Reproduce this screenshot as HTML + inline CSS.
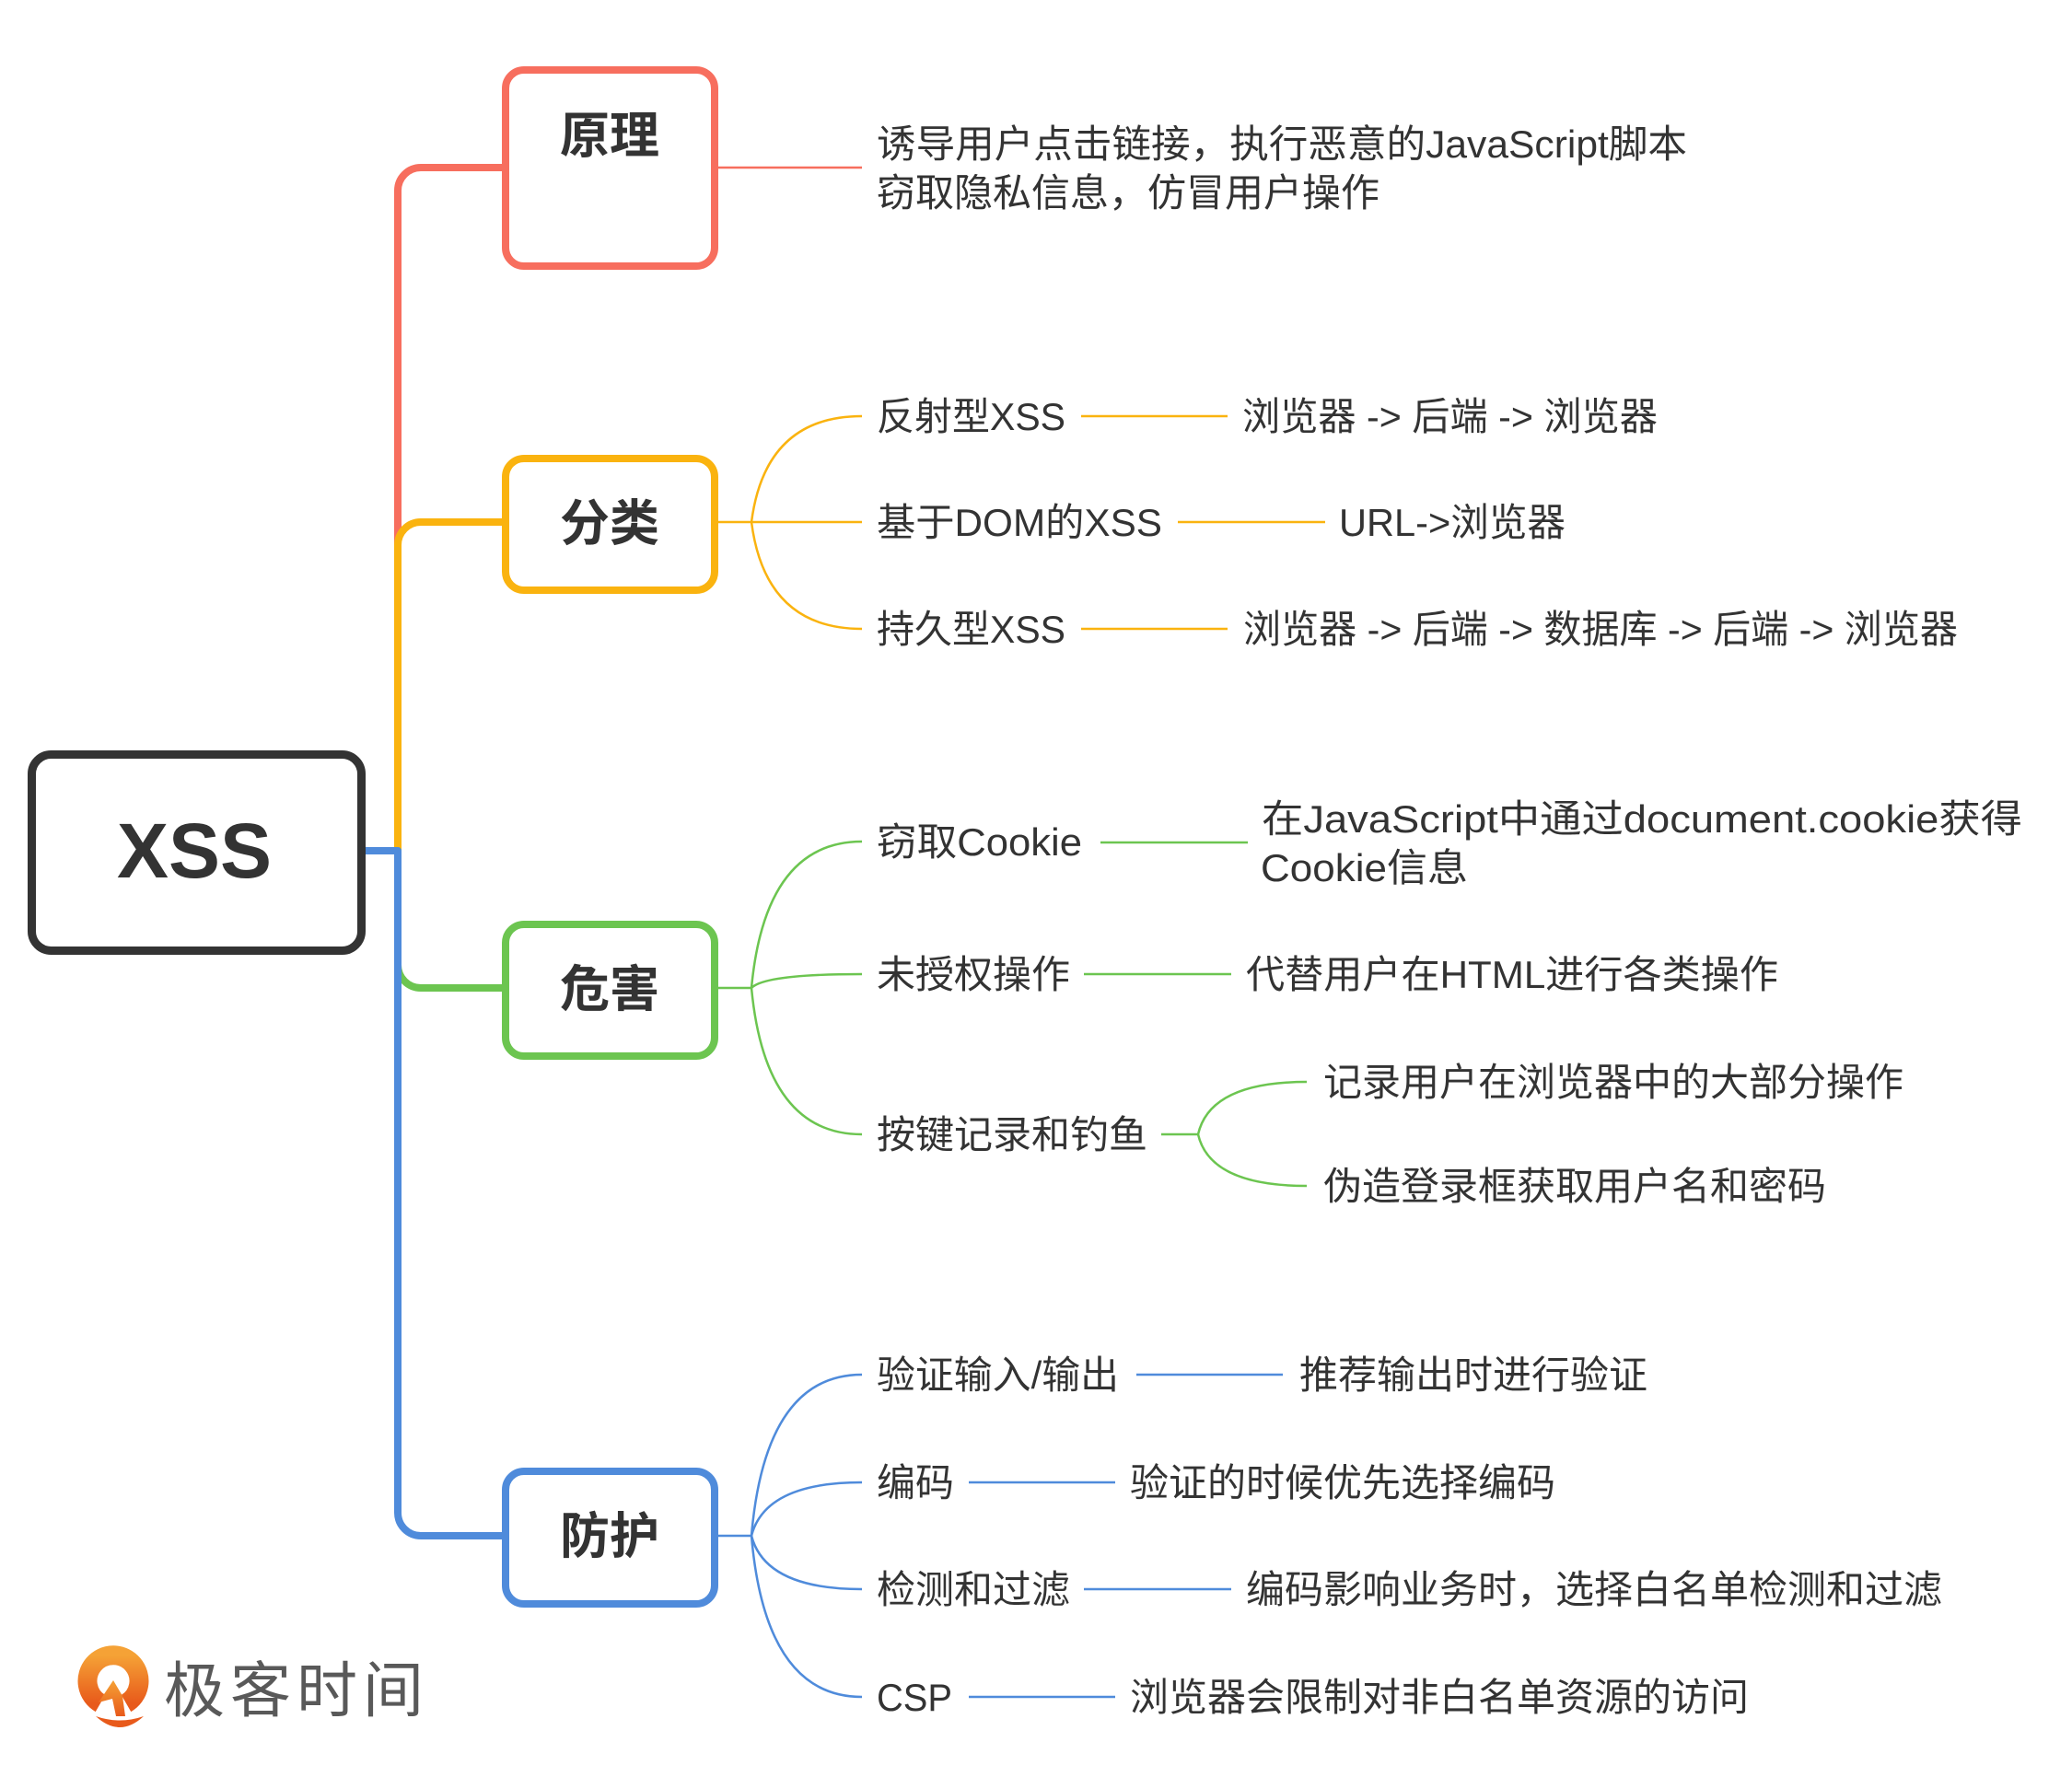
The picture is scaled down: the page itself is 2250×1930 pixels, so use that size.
<!DOCTYPE html>
<html>
<head>
<meta charset="utf-8">
<style>
  html,body{margin:0;padding:0;background:#fff;}
  body{width:2250px;height:1930px;overflow:hidden;}
  svg{display:block;}
  .t{font-family:"Liberation Sans","Noto Sans CJK SC",sans-serif;font-size:42px;fill:#333;}
  .b{font-family:"Liberation Sans","Noto Sans CJK SC",sans-serif;font-size:54px;font-weight:700;fill:#333;}
</style>
</head>
<body>
<svg width="2250" height="1930" viewBox="0 0 2250 1930" xmlns="http://www.w3.org/2000/svg">
  <rect x="0" y="0" width="2250" height="1930" fill="#fff"/>
  <defs>
    <linearGradient id="lg" x1="0" y1="0" x2="0" y2="1">
      <stop offset="0" stop-color="#F5A236"/>
      <stop offset="1" stop-color="#E85A1B"/>
    </linearGradient>
  </defs>

  <!-- trunk connectors -->
  <g fill="none" stroke-width="8" stroke-linecap="butt" stroke-linejoin="round">
    <path d="M395 924 H432 V207 A25 25 0 0 1 457 182 H550" stroke="#F76E5E"/>
    <path d="M395 924 H432 V592 A25 25 0 0 1 457 567 H550" stroke="#FAB30F"/>
    <path d="M395 924 H432 V1048 A25 25 0 0 0 457 1073 H550" stroke="#6CC550"/>
    <path d="M395 924 H432 V1643 A25 25 0 0 0 457 1668 H550" stroke="#4F8BDB"/>
  </g>

  <!-- boxes -->
  <rect x="34.5" y="819.5" width="358" height="213" rx="21" fill="#fff" stroke="#333" stroke-width="9"/>
  <rect x="549" y="76" width="227" height="213" rx="20" fill="#fff" stroke="#F76E5E" stroke-width="8"/>
  <rect x="549" y="498" width="227" height="143" rx="20" fill="#fff" stroke="#FAB30F" stroke-width="8"/>
  <rect x="549" y="1004" width="227" height="143" rx="20" fill="#fff" stroke="#6CC550" stroke-width="8"/>
  <rect x="549" y="1598" width="227" height="144" rx="20" fill="#fff" stroke="#4F8BDB" stroke-width="8"/>

  <!-- box labels -->
  <text x="211" y="953" text-anchor="middle" font-family="Liberation Sans, sans-serif" font-size="84" font-weight="700" fill="#333" textLength="168" lengthAdjust="spacingAndGlyphs">XSS</text>
  <text class="b" x="662" y="166" text-anchor="middle">原理</text>
  <text class="b" x="662" y="587" text-anchor="middle">分类</text>
  <text class="b" x="662" y="1093" text-anchor="middle">危害</text>
  <text class="b" x="662" y="1687" text-anchor="middle">防护</text>

  <!-- 原理 connector -->
  <path d="M780 182 H936" fill="none" stroke="#F76E5E" stroke-width="2.5"/>

  <!-- 分类 connectors -->
  <g fill="none" stroke="#FAB30F" stroke-width="2.5">
    <path d="M780 567 H816"/>
    <path d="M816 567 Q831 452 936 452"/>
    <path d="M816 567 H936"/>
    <path d="M816 567 Q831 683 936 683"/>
    <path d="M1174 452 H1333"/>
    <path d="M1279 567 H1439"/>
    <path d="M1174 683 H1333"/>
  </g>

  <!-- 危害 connectors -->
  <g fill="none" stroke="#6CC550" stroke-width="2.5">
    <path d="M780 1073 H816"/>
    <path d="M816 1073 Q831 914 936 914"/>
    <path d="M816 1073 Q831 1058 936 1058"/>
    <path d="M816 1073 Q831 1232 936 1232"/>
    <path d="M1195 915 H1355"/>
    <path d="M1177 1058 H1337"/>
    <path d="M1261 1232 H1301"/>
    <path d="M1301 1232 Q1314 1175 1419 1175"/>
    <path d="M1301 1232 Q1314 1288 1419 1288"/>
  </g>

  <!-- 防护 connectors -->
  <g fill="none" stroke="#4F8BDB" stroke-width="2.5">
    <path d="M780 1668 H816"/>
    <path d="M816 1668 Q831 1493 936 1493"/>
    <path d="M816 1668 Q831 1610 936 1610"/>
    <path d="M816 1668 Q831 1726 936 1726"/>
    <path d="M816 1668 Q831 1843 936 1843"/>
    <path d="M1234 1493 H1393"/>
    <path d="M1052 1610 H1211"/>
    <path d="M1177 1726 H1337"/>
    <path d="M1052 1843 H1211"/>
  </g>

  <!-- 原理 texts -->
  <text class="t" x="952" y="171" textLength="880" lengthAdjust="spacingAndGlyphs">诱导用户点击链接，执行恶意的JavaScript脚本</text>
  <text class="t" x="952" y="224">窃取隐私信息，仿冒用户操作</text>

  <!-- 分类 texts -->
  <text class="t" x="952" y="467" textLength="205" lengthAdjust="spacingAndGlyphs">反射型XSS</text>
  <text class="t" x="1349" y="467" textLength="451" lengthAdjust="spacingAndGlyphs">浏览器 -&gt; 后端 -&gt; 浏览器</text>
  <text class="t" x="952" y="582" textLength="310" lengthAdjust="spacingAndGlyphs">基于DOM的XSS</text>
  <text class="t" x="1454" y="582" textLength="246" lengthAdjust="spacingAndGlyphs">URL-&gt;浏览器</text>
  <text class="t" x="952" y="698" textLength="205" lengthAdjust="spacingAndGlyphs">持久型XSS</text>
  <text class="t" x="1350" y="698" textLength="776" lengthAdjust="spacingAndGlyphs">浏览器 -&gt; 后端 -&gt; 数据库 -&gt; 后端 -&gt; 浏览器</text>

  <!-- 危害 texts -->
  <text class="t" x="952" y="929" textLength="223" lengthAdjust="spacingAndGlyphs">窃取Cookie</text>
  <text class="t" x="1370" y="904" textLength="826" lengthAdjust="spacingAndGlyphs">在JavaScript中通过document.cookie获得</text>
  <text class="t" x="1369" y="957" textLength="225" lengthAdjust="spacingAndGlyphs">Cookie信息</text>
  <text class="t" x="952" y="1073">未授权操作</text>
  <text class="t" x="1353" y="1073" textLength="578" lengthAdjust="spacingAndGlyphs">代替用户在HTML进行各类操作</text>
  <text class="t" x="952" y="1247">按键记录和钓鱼</text>
  <text class="t" x="1437" y="1190">记录用户在浏览器中的大部分操作</text>
  <text class="t" x="1437" y="1303">伪造登录框获取用户名和密码</text>

  <!-- 防护 texts -->
  <text class="t" x="952" y="1508" textLength="263" lengthAdjust="spacingAndGlyphs">验证输入/输出</text>
  <text class="t" x="1411" y="1508">推荐输出时进行验证</text>
  <text class="t" x="952" y="1625">编码</text>
  <text class="t" x="1227" y="1625">验证的时候优先选择编码</text>
  <text class="t" x="952" y="1741">检测和过滤</text>
  <text class="t" x="1353" y="1741">编码影响业务时，选择白名单检测和过滤</text>
  <text class="t" x="952" y="1858" textLength="82" lengthAdjust="spacingAndGlyphs">CSP</text>
  <text class="t" x="1227" y="1858">浏览器会限制对非白名单资源的访问</text>

  <!-- logo -->
  <g>
    <path d="M109 1850 A28 28 0 1 1 137 1850" fill="none" stroke="url(#lg)" stroke-width="21"/>
    <path d="M123 1825 L107 1849 L122 1845 L126 1864 L136 1864 L133 1842 Z" fill="url(#lg)"/>
    <path d="M104 1864 Q130 1888 156 1864 Q130 1873 104 1864 Z" fill="#E85A1B"/>
    <text x="178" y="1859" font-family="Liberation Sans, Noto Sans CJK SC, sans-serif" font-size="66" fill="#595959" textLength="282" lengthAdjust="spacing">极客时间</text>
  </g>
</svg>
</body>
</html>
